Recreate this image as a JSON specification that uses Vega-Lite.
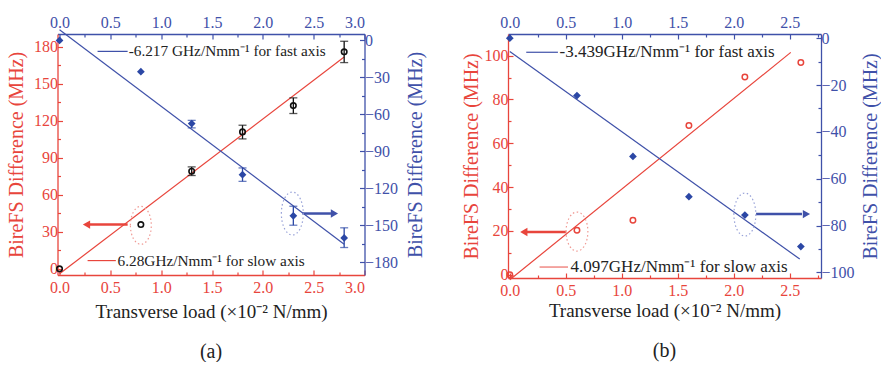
{
"$schema": "https://vega.github.io/schema/vega-lite/v6.json",
"padding": {"left": 6.5, "top": 14, "right": 0, "bottom": 0},
"spacing": 34.5,
"config": {"view": {"stroke": null}, "font": "Liberation Serif, Times New Roman, serif",
  "axis": {"grid": false, "labelFont": "Liberation Serif, Times New Roman, serif", "titleFont": "Liberation Serif, Times New Roman, serif", "titleFontWeight": "normal", "labelFontSize": 16, "titleFontSize": 20, "tickSize": -5, "domainWidth": 1.3, "tickWidth": 1.2, "labelPadding": 5},
  "axisBottom": {"labelPadding": 9}, "axisTop": {"labelPadding": 9},
  "title": {"font": "Liberation Serif, Times New Roman, serif"},
  "text": {"font": "Liberation Serif, Times New Roman, serif"}},
"datasets": {
  "slowA": [{"x":0,"y":0},{"x":0.8,"y":35.9},{"x":1.3,"y":79.2},{"x":1.8,"y":111.1},{"x":2.3,"y":132.4},{"x":2.8,"y":176}],
  "errSlowA": [{"x":1.3,"y":75.7,"y2":82.7},{"x":1.8,"y":105.4,"y2":116.5},{"x":2.3,"y":126,"y2":138.7},{"x":2.8,"y":167.3,"y2":184.6}],
  "fastA": [{"x":0,"y":0},{"x":0.8,"y":-25.4},{"x":1.3,"y":-67.5},{"x":1.8,"y":-109},{"x":2.3,"y":-142.4},{"x":2.8,"y":-160.3}],
  "errFastA": [{"x":1.3,"y":-71,"y2":-64.9},{"x":1.8,"y":-114.4,"y2":-103.5},{"x":2.3,"y":-150,"y2":-134.6},{"x":2.8,"y":-168.1,"y2":-152.1}],
  "slowB": [{"x":0,"y":0},{"x":0.6,"y":20.3},{"x":1.1,"y":24.9},{"x":1.6,"y":68.1},{"x":2.1,"y":90.3},{"x":2.6,"y":96.9}],
  "fastB": [{"x":0,"y":0},{"x":0.6,"y":-24.5},{"x":1.1,"y":-50.5},{"x":1.6,"y":-67.7},{"x":2.1,"y":-75.5},{"x":2.6,"y":-89}]
},
"hconcat": [
{
  "width": 307, "height": 241,
  "title": {"text": "(a)", "orient": "bottom", "fontSize": 20, "fontWeight": "normal", "color": "#222", "offset": 21},
  "layer": [
    {
      "data": {"name": "slowA"},
      "mark": {"type": "point", "opacity": 0},
      "encoding": {
        "x": {"field": "x", "type": "quantitative", "scale": {"domain": [-0.02, 3.0], "nice": false, "zero": false},
              "axis": {"orient": "bottom", "values": [0.25,0.75,1.25,1.75,2.25,2.75], "labels": false, "domain": false, "title": null, "tickSize": -3, "tickColor": "#e8453c"}},
        "y": {"field": "y", "type": "quantitative", "scale": {"domain": [-5, 190.5], "nice": false, "zero": false},
              "axis": {"orient": "left", "values": [15,45,75,105,135,165], "labels": false, "domain": false, "title": null, "tickSize": -3, "tickColor": "#e8453c"}}
      }
    },
    {
      "data": {"name": "fastA"},
      "mark": {"type": "point", "opacity": 0},
      "encoding": {
        "x": {"field": "x", "type": "quantitative", "scale": {"domain": [-0.02, 3.0], "nice": false, "zero": false},
              "axis": {"orient": "top", "values": [0.25,0.75,1.25,1.75,2.25,2.75], "labels": false, "domain": false, "title": null, "tickSize": -3, "tickColor": "#3f51a9"}},
        "y": {"field": "y", "type": "quantitative", "scale": {"domain": [-190.4, 5.2], "nice": false, "zero": false},
              "axis": {"orient": "right", "values": [-15,-45,-75,-105,-135,-165], "labels": false, "domain": false, "title": null, "tickSize": -3, "tickColor": "#3f51a9"}}
      }
    },
    {
      "encoding": {
        "x": {"field": "x", "type": "quantitative", "scale": {"domain": [-0.02, 3.0], "nice": false, "zero": false},
              "axis": {"orient": "bottom", "values": [0,0.5,1,1.5,2,2.5,3], "format": ".1f", "domainColor": "#e8453c", "tickColor": "#e8453c", "labelColor": "#e8453c", "title": "Transverse load (×10⁻² N/mm)", "titleColor": "#222", "titleFontSize": 19, "titlePadding": 7}},
        "y": {"field": "y", "type": "quantitative", "scale": {"domain": [-5, 190.5], "nice": false, "zero": false},
              "axis": {"orient": "left", "values": [0,30,60,90,120,150,180], "domainColor": "#e8453c", "tickColor": "#e8453c", "labelColor": "#e8453c", "title": "BireFS Difference (MHz)", "titleColor": "#e8453c", "titlePadding": 7}}
      },
      "layer": [
        {"data": {"values": [{"x":0,"y":-4},{"x":2.8,"y":171.8}]}, "mark": {"type": "line", "color": "#e8453c", "strokeWidth": 1.2}},
        {"data": {"name": "errSlowA"}, "mark": {"type": "rule", "color": "#111", "strokeWidth": 1.3}, "encoding": {"y2": {"field": "y2"}}},
        {"data": {"name": "errSlowA"}, "transform": [{"fold": ["y", "y2"], "as": ["end", "y"]}], "mark": {"type": "tick", "orient": "horizontal", "color": "#111", "size": 8, "thickness": 1.3}},
        {"data": {"name": "slowA"}, "mark": {"type": "point", "shape": "circle", "filled": false, "stroke": "#111", "strokeWidth": 1.6, "size": 30, "opacity": 1}},
        {"data": {"values": [{"x":0.276,"x2":0.554,"y":6.7}]}, "mark": {"type": "rule", "color": "#e8453c", "strokeWidth": 1.2}, "encoding": {"x2": {"field": "x2"}}},
        {"data": {"values": [{"x":0.571,"y":6.7,"label":"6.28GHz/Nmm⁻¹  for slow axis"}]}, "mark": {"type": "text", "align": "left", "baseline": "middle", "fontSize": 15.3, "color": "#222"}, "encoding": {"text": {"field": "label"}}},
        {"data": {"values": [{"x":0.67,"x2":0.29,"y":35.9}]}, "mark": {"type": "rule", "color": "#e8453c", "strokeWidth": 2.5}, "encoding": {"x2": {"field": "x2"}}},
        {"data": {"values": [{"x":0.265,"y":35.9}]}, "mark": {"type": "point", "shape": "triangle-left", "filled": true, "color": "#e8453c", "size": 70, "opacity": 1}},
        {"data": {"values": [{"x":0.8,"y":35.3}]}, "mark": {"type": "point", "shape": "M -0.55 0 A 0.55 1 0 1 1 0.55 0 A 0.55 1 0 1 1 -0.55 0 Z", "filled": false, "stroke": "#f09a94", "strokeWidth": 1.2, "strokeDash": [1.5, 2.5], "size": 1444, "opacity": 1}}
      ]
    },
    {
      "encoding": {
        "x": {"field": "x", "type": "quantitative", "scale": {"domain": [-0.02, 3.0], "nice": false, "zero": false},
              "axis": {"orient": "top", "values": [0,0.5,1,1.5,2,2.5,3], "format": ".1f", "domainColor": "#3f51a9", "tickColor": "#3f51a9", "labelColor": "#3f51a9", "title": null}},
        "y": {"field": "y", "type": "quantitative", "scale": {"domain": [-190.4, 5.2], "nice": false, "zero": false},
              "axis": {"orient": "right", "values": [0,-30,-60,-90,-120,-150,-180], "domainColor": "#3f51a9", "tickColor": "#3f51a9", "labelColor": "#3f51a9", "title": "BireFS Difference (MHz)", "titleColor": "#3f51a9", "titleAngle": 270, "titleBaseline": "top", "titlePadding": 8}}
      },
      "layer": [
        {"data": {"values": [{"x":0,"y":8.7},{"x":2.8,"y":-165.4}]}, "mark": {"type": "line", "color": "#3f51a9", "strokeWidth": 1.2}},
        {"data": {"name": "errFastA"}, "mark": {"type": "rule", "color": "#2b47a5", "strokeWidth": 1.3}, "encoding": {"y2": {"field": "y2"}}},
        {"data": {"name": "errFastA"}, "transform": [{"fold": ["y", "y2"], "as": ["end", "y"]}], "mark": {"type": "tick", "orient": "horizontal", "color": "#2b47a5", "size": 8, "thickness": 1.3}},
        {"data": {"name": "fastA"}, "mark": {"type": "point", "shape": "diamond", "filled": true, "color": "#2b47a5", "size": 60, "opacity": 1}},
        {"data": {"values": [{"x":0.374,"x2":0.67,"y":-8.9}]}, "mark": {"type": "rule", "color": "#3f51a9", "strokeWidth": 1.2}, "encoding": {"x2": {"field": "x2"}}},
        {"data": {"values": [{"x":0.68,"y":-8.9,"label":"-6.217 GHz/Nmm⁻¹  for fast axis"}]}, "mark": {"type": "text", "align": "left", "baseline": "middle", "fontSize": 15.3, "color": "#222"}, "encoding": {"text": {"field": "label"}}},
        {"data": {"values": [{"x":2.39,"x2":2.67,"y":-140.5}]}, "mark": {"type": "rule", "color": "#3f51a9", "strokeWidth": 2.5}, "encoding": {"x2": {"field": "x2"}}},
        {"data": {"values": [{"x":2.704,"y":-140.5}]}, "mark": {"type": "point", "shape": "triangle-right", "filled": true, "color": "#3f51a9", "size": 70, "opacity": 1}},
        {"data": {"values": [{"x":2.29,"y":-140.5}]}, "mark": {"type": "point", "shape": "M -0.51 0 A 0.51 1 0 1 1 0.51 0 A 0.51 1 0 1 1 -0.51 0 Z", "filled": false, "stroke": "#98a2d8", "strokeWidth": 1.2, "strokeDash": [1.5, 2.5], "size": 1849, "opacity": 1}}
      ]
    }
  ],
  "resolve": {"scale": {"y": "independent"}, "axis": {"x": "independent", "y": "independent"}}
},
{
  "width": 313, "height": 244,
  "title": {"text": "(b)", "orient": "bottom", "fontSize": 20, "fontWeight": "normal", "color": "#222", "offset": 21},
  "layer": [
    {
      "data": {"name": "slowB"},
      "mark": {"type": "point", "opacity": 0},
      "encoding": {
        "x": {"field": "x", "type": "quantitative", "scale": {"domain": [-0.016, 2.78], "nice": false, "zero": false},
              "axis": {"orient": "bottom", "values": [0.25,0.75,1.25,1.75,2.25,2.75], "labels": false, "domain": false, "title": null, "tickSize": -3, "tickColor": "#e8453c"}},
        "y": {"field": "y", "type": "quantitative", "scale": {"domain": [-1.5, 109.9], "nice": false, "zero": false},
              "axis": {"orient": "left", "values": [10,30,50,70,90], "labels": false, "domain": false, "title": null, "tickSize": -3, "tickColor": "#e8453c"}}
      }
    },
    {
      "data": {"name": "fastB"},
      "mark": {"type": "point", "opacity": 0},
      "encoding": {
        "x": {"field": "x", "type": "quantitative", "scale": {"domain": [-0.016, 2.78], "nice": false, "zero": false},
              "axis": {"orient": "top", "values": [0.25,0.75,1.25,1.75,2.25,2.75], "labels": false, "domain": false, "title": null, "tickSize": -3, "tickColor": "#3f51a9"}},
        "y": {"field": "y", "type": "quantitative", "scale": {"domain": [-102.4, 1.8], "nice": false, "zero": false},
              "axis": {"orient": "right", "values": [-10,-30,-50,-70,-90], "labels": false, "domain": false, "title": null, "tickSize": -3, "tickColor": "#3f51a9"}}
      }
    },
    {
      "encoding": {
        "x": {"field": "x", "type": "quantitative", "scale": {"domain": [-0.016, 2.78], "nice": false, "zero": false},
              "axis": {"orient": "bottom", "values": [0,0.5,1,1.5,2,2.5], "format": ".1f", "domainColor": "#e8453c", "tickColor": "#e8453c", "labelColor": "#e8453c", "title": "Transverse load (×10⁻² N/mm)", "titleColor": "#222", "titleFontSize": 19, "titlePadding": 3}},
        "y": {"field": "y", "type": "quantitative", "scale": {"domain": [-1.5, 109.9], "nice": false, "zero": false},
              "axis": {"orient": "left", "values": [0,20,40,60,80,100], "domainColor": "#e8453c", "tickColor": "#e8453c", "labelColor": "#e8453c", "title": "BireFS Difference (MHz)", "titleColor": "#e8453c", "titlePadding": 3}}
      },
      "layer": [
        {"data": {"values": [{"x":0,"y":-2.3},{"x":2.51,"y":101.5}]}, "mark": {"type": "line", "color": "#e8453c", "strokeWidth": 1.2}},
        {"data": {"name": "slowB"}, "mark": {"type": "point", "shape": "circle", "filled": false, "stroke": "#e8453c", "strokeWidth": 1.5, "size": 30, "opacity": 1}},
        {"data": {"values": [{"x":0.266,"x2":0.52,"y":3.5}]}, "mark": {"type": "rule", "color": "#f08a84", "strokeWidth": 1.5}, "encoding": {"x2": {"field": "x2"}}},
        {"data": {"values": [{"x":0.543,"y":3.5,"label":"4.097GHz/Nmm⁻¹ for slow axis"}]}, "mark": {"type": "text", "align": "left", "baseline": "middle", "fontSize": 17, "color": "#222"}, "encoding": {"text": {"field": "label"}}},
        {"data": {"values": [{"x":0.504,"x2":0.15,"y":19.5}]}, "mark": {"type": "rule", "color": "#e8453c", "strokeWidth": 2.5}, "encoding": {"x2": {"field": "x2"}}},
        {"data": {"values": [{"x":0.125,"y":19.5}]}, "mark": {"type": "point", "shape": "triangle-left", "filled": true, "color": "#e8453c", "size": 70, "opacity": 1}},
        {"data": {"values": [{"x":0.6,"y":19.7}]}, "mark": {"type": "point", "shape": "M -0.56 0 A 0.56 1 0 1 1 0.56 0 A 0.56 1 0 1 1 -0.56 0 Z", "filled": false, "stroke": "#f09a94", "strokeWidth": 1.2, "strokeDash": [1.5, 2.5], "size": 1521, "opacity": 1}}
      ]
    },
    {
      "encoding": {
        "x": {"field": "x", "type": "quantitative", "scale": {"domain": [-0.016, 2.78], "nice": false, "zero": false},
              "axis": {"orient": "top", "values": [0,0.5,1,1.5,2,2.5], "format": ".1f", "domainColor": "#3f51a9", "tickColor": "#3f51a9", "labelColor": "#3f51a9", "title": null}},
        "y": {"field": "y", "type": "quantitative", "scale": {"domain": [-102.4, 1.8], "nice": false, "zero": false},
              "axis": {"orient": "right", "values": [0,-20,-40,-60,-80,-100], "domainColor": "#3f51a9", "tickColor": "#3f51a9", "labelColor": "#3f51a9", "title": "BireFS Difference (MHz)", "titleColor": "#3f51a9", "titleAngle": 270, "titleBaseline": "top", "titlePadding": 6}}
      },
      "layer": [
        {"data": {"values": [{"x":0,"y":-5.7},{"x":2.59,"y":-94.3}]}, "mark": {"type": "line", "color": "#3f51a9", "strokeWidth": 1.2}},
        {"data": {"name": "fastB"}, "mark": {"type": "point", "shape": "diamond", "filled": true, "color": "#2b47a5", "size": 60, "opacity": 1}},
        {"data": {"values": [{"x":0.147,"x2":0.43,"y":-6.0}]}, "mark": {"type": "rule", "color": "#3f51a9", "strokeWidth": 1.2}, "encoding": {"x2": {"field": "x2"}}},
        {"data": {"values": [{"x":0.445,"y":-6.0,"label":"-3.439GHz/Nmm⁻¹ for fast axis"}]}, "mark": {"type": "text", "align": "left", "baseline": "middle", "fontSize": 17, "color": "#222"}, "encoding": {"text": {"field": "label"}}},
        {"data": {"values": [{"x":2.2,"x2":2.61,"y":-75.1}]}, "mark": {"type": "rule", "color": "#3f51a9", "strokeWidth": 2.5}, "encoding": {"x2": {"field": "x2"}}},
        {"data": {"values": [{"x":2.65,"y":-75.1}]}, "mark": {"type": "point", "shape": "triangle-right", "filled": true, "color": "#3f51a9", "size": 70, "opacity": 1}},
        {"data": {"values": [{"x":2.1,"y":-75.3}]}, "mark": {"type": "point", "shape": "M -0.51 0 A 0.51 1 0 1 1 0.51 0 A 0.51 1 0 1 1 -0.51 0 Z", "filled": false, "stroke": "#98a2d8", "strokeWidth": 1.2, "strokeDash": [1.5, 2.5], "size": 1849, "opacity": 1}}
      ]
    }
  ],
  "resolve": {"scale": {"y": "independent"}, "axis": {"x": "independent", "y": "independent"}}
}
]
}
